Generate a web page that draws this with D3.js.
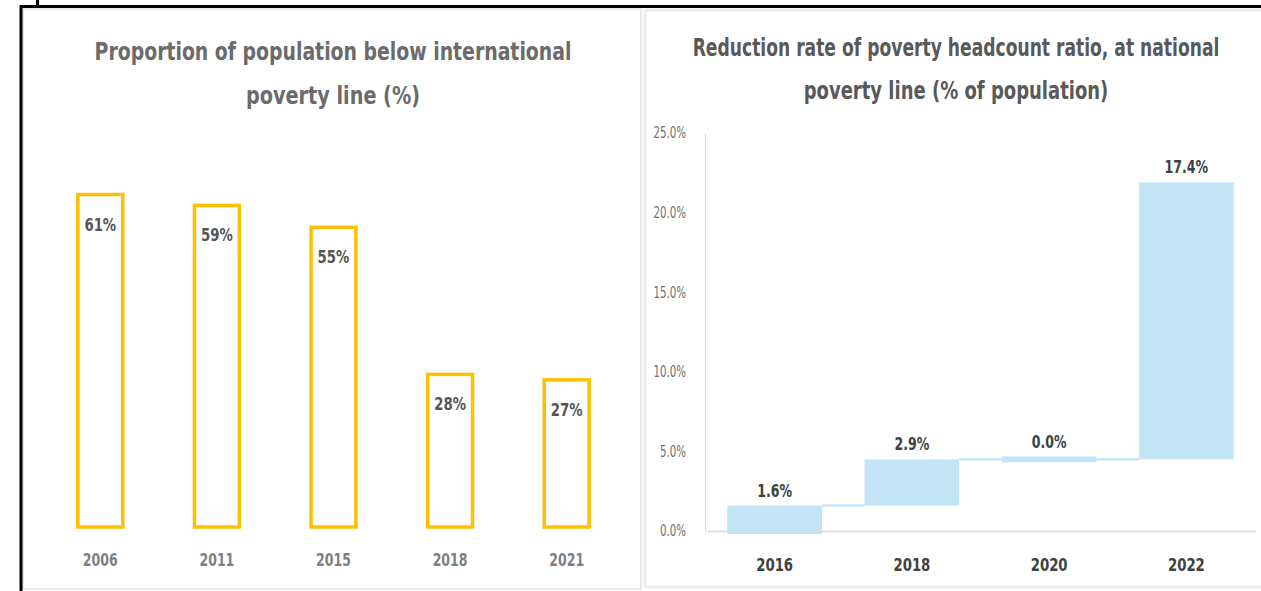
<!DOCTYPE html>
<html>
<head>
<meta charset="utf-8">
<script src="https://cdn.jsdelivr.net/npm/d3@7"></script>
<style>
  body { margin: 0; background: #fff; }
  svg { display: block; }
  text { font-family: "DejaVu Sans Condensed", "Liberation Sans Narrow", sans-serif; }
</style>
</head>
<body>
<div id="graf"></div>
<script>
//// DATOS
anios_intl   = ['2006', '2011', '2015', '2018', '2021']
valores_intl = [61, 59, 55, 28, 27]
titulo_intl  = ['Proportion of population below international', 'poverty line (%)']

anios_nac   = ['2016', '2018', '2020', '2022']
cambios_nac = [1.6, 2.9, 0.0, 17.4]
ticks_nac   = [0, 5, 10, 15, 20, 25]
titulo_nac  = ['Reduction rate of poverty headcount ratio, at national', 'poverty line (% of population)']

ancho_total = 1261
alto_total  = 591
fuente = '"DejaVu Sans Condensed", "Liberation Sans Narrow", sans-serif'

svg = d3.select('#graf').append('svg')
  .attr('width', ancho_total)
  .attr('height', alto_total)

// estrecha un texto (la fuente original es condensada)
function estrechar(sel, factor) {
  sel.each(function() {
    w = this.getComputedTextLength()
    d3.select(this).attr('textLength', w * factor).attr('lengthAdjust', 'spacingAndGlyphs')
  })
}

// títulos: se escalan en horizontal hasta el ancho deseado
function titulo(g, lineas, cx, y0, dy, anchos, color) {
  lineas.forEach((t, i) => {
    tx = g.append('text')
      .attr('text-anchor', 'middle')
      .attr('font-size', 25).attr('font-weight', 'bold').attr('fill', color)
      .text(t)
    f = anchos[i] / tx.node().getComputedTextLength()
    tx.attr('transform', `translate(${cx},${y0 + i * dy}) scale(${f},1)`)
  })
}

//// MARCOS
svg.append('rect').attr('x', 23).attr('y', 9).attr('width', 618).attr('height', 580)
  .attr('fill', '#fff').attr('stroke', '#e8e8e8').attr('stroke-width', 2)
svg.append('rect').attr('x', 645).attr('y', 10).attr('width', 620).attr('height', 577)
  .attr('fill', '#fff').attr('stroke', '#ededed').attr('stroke-width', 3)
svg.append('line').attr('x1', 20).attr('x2', ancho_total).attr('y1', 6.5).attr('y2', 6.5)
  .attr('stroke', '#000').attr('stroke-width', 3)
svg.append('line').attr('x1', 21).attr('x2', 21).attr('y1', 5).attr('y2', alto_total)
  .attr('stroke', '#000').attr('stroke-width', 3)
svg.append('rect').attr('x', 36).attr('y', 0).attr('width', 3).attr('height', 6).attr('fill', '#000')

//// GRÁFICO IZQUIERDO
gI = svg.append('g')

xI = d3.scaleBand().domain(anios_intl).range([42, 625]).paddingInner(0.615).paddingOuter(0.3075)
yI = d3.scaleLinear().domain([0, 65]).range([527, 527 - 65 * 5.45])

titulo(gI, titulo_intl, 333, 60, 44, [477, 174], '#6b6b6b')

gI.selectAll('.barra').data(valores_intl).join('rect')
  .attr('x', (d, i) => xI(anios_intl[i]))
  .attr('y', d => yI(d))
  .attr('width', xI.bandwidth())
  .attr('height', d => yI(0) - yI(d))
  .attr('fill', '#fff').attr('stroke', '#FFC000').attr('stroke-width', 3.5)

gI.selectAll('.etiq').data(valores_intl).join('text')
  .attr('x', (d, i) => xI(anios_intl[i]) + xI.bandwidth() / 2)
  .attr('y', d => yI(d) + 36)
  .attr('text-anchor', 'middle')
  .attr('font-size', 18).attr('font-weight', 'bold').attr('fill', '#555')
  .text(d => d + '%')
  .call(estrechar, 0.82)

ejeI = gI.append('g').attr('transform', 'translate(0,527)')
  .call(d3.axisBottom(xI).tickSize(0).tickPadding(27))
ejeI.select('.domain').remove()
ejeI.selectAll('text').attr('font-size', 17).attr('font-weight', 'bold').attr('fill', '#7f7f7f')
  .attr('font-family', fuente)
  .call(estrechar, 0.82)

//// GRÁFICO DERECHO (CASCADA)
gD = svg.append('g')

xD = d3.scaleBand().domain(anios_nac).range([706, 1255]).paddingInner(0.31).paddingOuter(0.155)
yD = d3.scaleLinear().domain([0, 25]).range([531, 133])

titulo(gD, titulo_nac, 956, 56, 43, [527, 305], '#595959')

ejeY = gD.append('g').attr('transform', 'translate(705,0)')
  .call(d3.axisLeft(yD).tickValues(ticks_nac).tickSize(0).tickPadding(19).tickFormat(d => d.toFixed(1) + '%'))
ejeY.select('.domain').attr('stroke', '#d9d9d9')
ejeY.selectAll('text').attr('font-size', 15).attr('fill', '#707070')
  .attr('font-family', fuente)
  .call(estrechar, 0.76)

ejeX = gD.append('g').attr('transform', 'translate(0,531)')
  .call(d3.axisBottom(xD).tickSize(0).tickPadding(27))
ejeX.select('.domain').attr('stroke', '#d9d9d9').attr('stroke-width', 1.5)
ejeX.selectAll('text').attr('font-size', 18).attr('font-weight', 'bold').attr('fill', '#404040')
  .attr('font-family', fuente)
  .call(estrechar, 0.82)

//// ACUMULADOS
acum = 0
pasos = cambios_nac.map((v, i) => {
  inicio = acum
  acum = acum + v
  return { anio: anios_nac[i], v: v, ini: inicio, fin: acum }
})

// conectores
gD.selectAll('.conector').data(pasos.slice(0, -1)).join('line')
  .attr('x1', d => xD(d.anio) + xD.bandwidth())
  .attr('x2', (d, i) => xD(pasos[i + 1].anio))
  .attr('y1', d => yD(d.fin)).attr('y2', d => yD(d.fin))
  .attr('stroke', '#C5E6F6').attr('stroke-width', 2.5)

gD.selectAll('.cascada').data(pasos).join('rect')
  .attr('x', d => xD(d.anio))
  .attr('width', xD.bandwidth())
  .attr('y', d => {
    h = yD(d.ini) - yD(d.fin)
    return h < 6 ? yD(d.fin) - 3 : yD(d.fin)
  })
  .attr('height', d => Math.max(6, yD(d.ini) - yD(d.fin)) + (d.ini === 0 ? 3 : 0))
  .attr('fill', '#C2E4F5')

gD.selectAll('.etiq').data(pasos).join('text')
  .attr('x', d => xD(d.anio) + xD.bandwidth() / 2)
  .attr('y', d => yD(d.fin) - (d.v === 0 ? 11 : 9))
  .attr('text-anchor', 'middle')
  .attr('font-size', 17).attr('font-weight', 'bold').attr('fill', '#404040')
  .text(d => d.v.toFixed(1) + '%')
  .call(estrechar, 0.82)
</script>
</body>
</html>
